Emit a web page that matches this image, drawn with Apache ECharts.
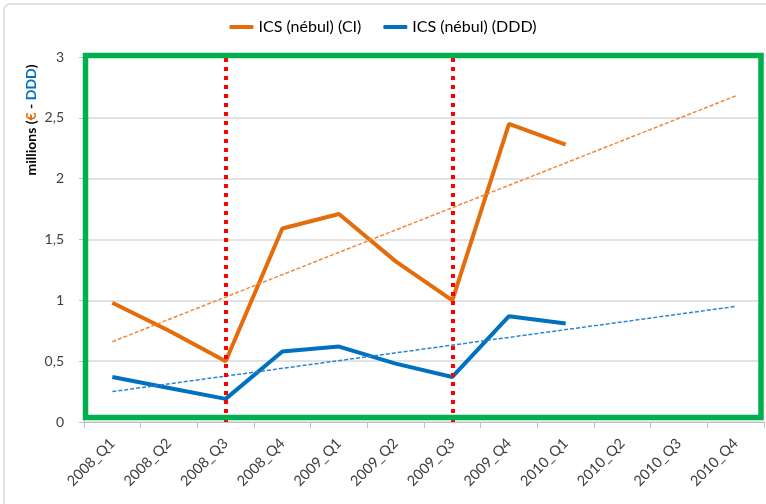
<!DOCTYPE html>
<html>
<head>
<meta charset="utf-8">
<script src="https://cdn.jsdelivr.net/npm/echarts@6/dist/echarts.min.js"></script>
<style>
  html, body { margin: 0; padding: 0; background: #fff; }
  #chart { width: 766px; height: 504px; }
</style>
</head>
<body>
<div id="chart"></div>
<script>
const categories = ['2008_Q1', '2008_Q2', '2008_Q3', '2008_Q4', '2009_Q1', '2009_Q2',
  '2009_Q3', '2009_Q4', '2010_Q1', '2010_Q2', '2010_Q3', '2010_Q4'];
const valuesCI = [0.98, 0.75, 0.5, 1.59, 1.71, 1.32, 1.0, 2.45, 2.28, null, null, null];
const valuesDDD = [0.37, 0.28, 0.19, 0.58, 0.62, 0.48, 0.37, 0.87, 0.81, null, null, null];
// trend lines, read at both ends
const trendCI = [0.66, null, null, null, null, null, null, null, null, null, null, 2.68];
const trendDDD = [0.25, null, null, null, null, null, null, null, null, null, null, 0.95];
const markers = ['2008_Q3', '2009_Q3'];
const yTicks = { min: 0, max: 3, step: 0.5 };

const orange = '#E46C0A';
const blue = '#0070C0';
const font = 'Lato';

const chart = echarts.init(document.getElementById('chart'));
chart.setOption({
  animation: false,
  textStyle: { fontFamily: font },
  legend: {
    top: 14,
    left: 'center',
    data: ['ICS (nébul) (CI)', 'ICS (nébul) (DDD)'],
    icon: 'roundRect',
    itemWidth: 24,
    itemHeight: 4,
    itemGap: 22,
    textStyle: { fontFamily: font, fontSize: 16, color: '#000' },
  },
  grid: { left: 84, right: 2, top: 57, bottom: 82 },
  xAxis: {
    type: 'category',
    data: categories,
    boundaryGap: true,
    axisLine: { lineStyle: { color: '#bfbfbf', width: 1 } },
    axisTick: { show: true, length: 6, lineStyle: { color: '#bfbfbf' } },
    axisLabel: { rotate: 45, margin: 19, fontSize: 14.5, color: '#404040', fontFamily: font },
  },
  yAxis: {
    type: 'value',
    min: yTicks.min,
    max: yTicks.max,
    interval: yTicks.step,
    axisLine: { show: true, lineStyle: { color: '#bfbfbf' } },
    axisTick: { show: true, length: 5, lineStyle: { color: '#bfbfbf' } },
    axisLabel: {
      margin: 20, fontSize: 14, color: '#404040', fontFamily: font,
      formatter: v => String(v).replace('.', ','),
    },
    splitLine: { lineStyle: { color: '#d9d9d9', width: 1.5 } },
  },
  series: [
    {
      name: 'ICS (nébul) (CI)',
      type: 'line',
      data: valuesCI,
      showSymbol: false,
      lineStyle: { color: orange, width: 4 },
      itemStyle: { color: orange },
      z: 3,
    },
    {
      name: 'ICS (nébul) (DDD)',
      type: 'line',
      data: valuesDDD,
      showSymbol: false,
      lineStyle: { color: blue, width: 4 },
      itemStyle: { color: blue },
      z: 3,
      markLine: {
        silent: true,
        symbol: 'none',
        label: { show: false },
        lineStyle: { color: '#FF0000', width: 4, type: [4, 5] },
        data: markers.map(m => ({ xAxis: m })),
      },
    },
    {
      name: 'trend CI',
      type: 'line',
      data: trendCI,
      connectNulls: true,
      showSymbol: false,
      lineStyle: { color: '#F0883A', width: 1.5, type: [4, 2] },
      z: 4,
    },
    {
      name: 'trend DDD',
      type: 'line',
      data: trendDDD,
      connectNulls: true,
      showSymbol: false,
      lineStyle: { color: '#2C84D0', width: 1.5, type: [4, 2] },
      z: 4,
    },
  ],
  graphic: [
    {
      type: 'rect',
      z: 100,
      shape: { x: 4, y: 4, width: 800, height: 600, r: 6 },
      style: { fill: null, stroke: '#d9d9d9', lineWidth: 1.5 },
    },
    {
      type: 'rect',
      z: 100,
      shape: { x: 85.5, y: 55.5, width: 675.5, height: 362 },
      style: { fill: null, stroke: '#00B050', lineWidth: 5.5 },
    },
    {
      type: 'text',
      z: 100,
      x: 31,
      y: 120,
      rotation: Math.PI / 2,
      style: {
        text: '{k|millions (}{e|€}{k| - }{d|DDD}{k|)}',
        align: 'center',
        verticalAlign: 'middle',
        rich: {
          k: { fontFamily: font, fontSize: 14, fontWeight: 'bold', fill: '#000' },
          e: { fontFamily: font, fontSize: 14, fontWeight: 'bold', fill: orange },
          d: { fontFamily: font, fontSize: 14, fontWeight: 'bold', fill: blue },
        },
      },
    },
  ],
});
</script>
</body>
</html>
